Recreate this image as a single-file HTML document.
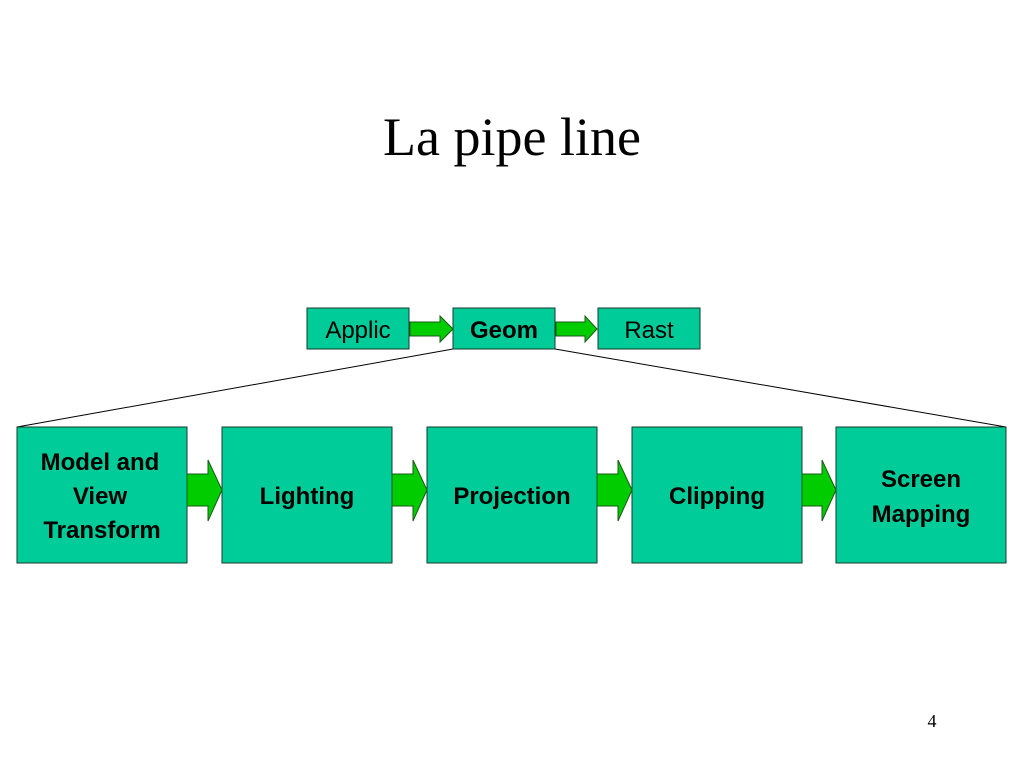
<!DOCTYPE html>
<html><head><style>
body{margin:0;width:1024px;height:768px;background:#fff;overflow:hidden}
</style></head><body>
<svg width="1024" height="768" xmlns="http://www.w3.org/2000/svg">
<text x="512" y="155" text-anchor="middle" font-family="Liberation Serif, serif" font-size="54">La pipe line</text>
<g stroke="#000" stroke-width="1">
<line x1="453" y1="349" x2="17" y2="427"/>
<line x1="555" y1="349" x2="1006" y2="427"/>
</g>
<g fill="#00CC99" stroke="#1a3a2a" stroke-width="1">
<rect x="307" y="308" width="102" height="41"/>
<rect x="453" y="308" width="102" height="41"/>
<rect x="598" y="308" width="102" height="41"/>
<rect x="17" y="427" width="170" height="136"/>
<rect x="222" y="427" width="170" height="136"/>
<rect x="427" y="427" width="170" height="136"/>
<rect x="632" y="427" width="170" height="136"/>
<rect x="836" y="427" width="170" height="136"/>
</g>
<g fill="#00CC00" stroke="#1a5a1a" stroke-width="1">
<polygon points="410,322 440,322 440,316 453,329 440,342 440,336 410,336"/>
<polygon points="556,322 585,322 585,316 597,329 585,342 585,336 556,336"/>
<polygon points="187,474 208,474 208,460 222,490 208,521 208,506 187,506"/>
<polygon points="392,474 413,474 413,460 427,490 413,521 413,506 392,506"/>
<polygon points="597,474 618,474 618,460 632,490 618,521 618,506 597,506"/>
<polygon points="802,474 822,474 822,460 836,490 822,521 822,506 802,506"/>
</g>
<g font-family="Liberation Sans, sans-serif" font-size="24" text-anchor="middle" fill="#000">
<text x="358" y="338">Applic</text>
<text x="504" y="338" font-weight="bold">Geom</text>
<text x="649" y="338">Rast</text>
</g>
<g font-family="Liberation Sans, sans-serif" font-size="24" font-weight="bold" text-anchor="middle" fill="#000">
<text x="100" y="470">Model and</text>
<text x="100" y="504">View</text>
<text x="102" y="538">Transform</text>
<text x="307" y="504">Lighting</text>
<text x="512" y="504">Projection</text>
<text x="717" y="504">Clipping</text>
<text x="921" y="487">Screen</text>
<text x="921" y="522">Mapping</text>
</g>
<text x="932" y="727" text-anchor="middle" font-family="Liberation Serif, serif" font-size="18">4</text>
</svg>
</body></html>
